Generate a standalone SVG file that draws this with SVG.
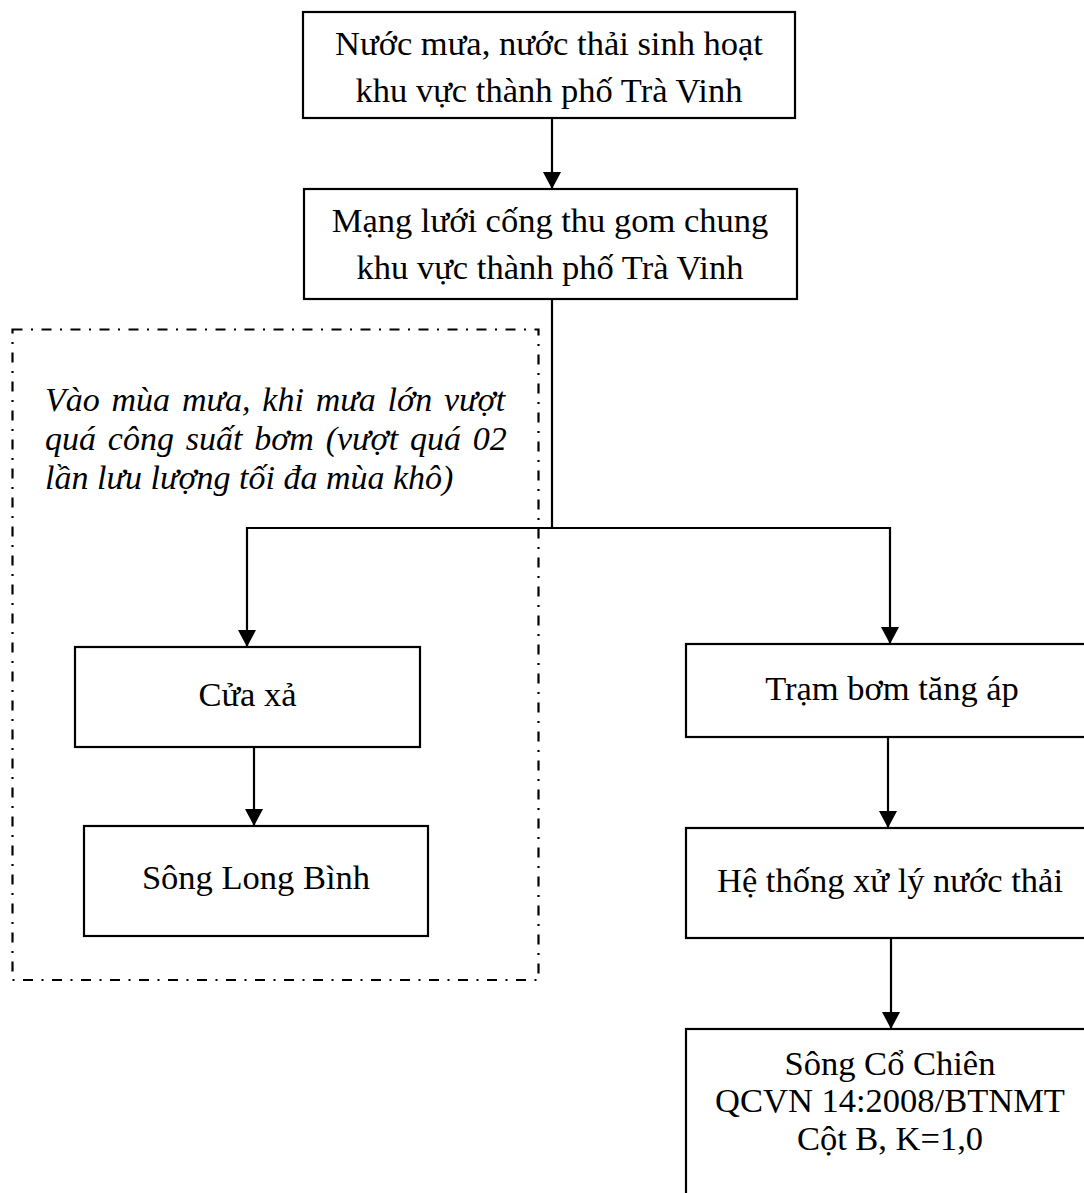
<svg xmlns="http://www.w3.org/2000/svg" width="1084" height="1193" viewBox="0 0 1084 1193">
<defs>
<marker id="arr" markerUnits="userSpaceOnUse" markerWidth="18" markerHeight="18" viewBox="0 0 18 18" refX="17" refY="9" orient="auto">
<path d="M0,0 L17,9 L0,18 Z" fill="#000"/>
</marker>
<style>
.box{fill:#fff;stroke:#000;stroke-width:2.2}
.t{font-family:"Liberation Serif","Times New Roman",serif;font-size:34.5px;fill:#000;text-anchor:middle}
.it{font-family:"Liberation Serif","Times New Roman",serif;font-size:34px;font-style:italic;fill:#000}
.c{fill:none;stroke:#000;stroke-width:2.2}
.ca{fill:none;stroke:#000;stroke-width:2.2;marker-end:url(#arr)}
.dash{fill:none;stroke:#000;stroke-width:2.2;stroke-dasharray:10 8.5 2 8.5}
</style>
</defs>
<rect width="1084" height="1193" fill="#fff"/>
<g id="region-overflow">
<rect class="dash" x="12.5" y="329.5" width="526" height="650.5"/>
<text class="it" x="45" y="411" word-spacing="3.3">Vào mùa mưa, khi mưa lớn vượt</text>
<text class="it" x="45" y="450" word-spacing="3.3">quá công suất bơm (vượt quá 02</text>
<text class="it" x="45" y="489">lần lưu lượng tối đa mùa khô)</text>
</g>
<g id="connectors">
<line class="ca" x1="552" y1="118" x2="552" y2="189"/>
<polyline class="c" points="552,299 552,528"/>
<polyline class="ca" points="552,528 247,528 247,647"/>
<polyline class="ca" points="552,528 890,528 890,644"/>
<line class="ca" x1="254" y1="747" x2="254" y2="826"/>
<line class="ca" x1="888" y1="737" x2="888" y2="828"/>
<line class="ca" x1="891" y1="938" x2="891" y2="1029"/>
</g>
<g id="node-nuoc-mua">
<rect class="box" x="303" y="12" width="492" height="106"/>
<text class="t" x="549" y="55">Nước mưa, nước thải sinh hoạt</text>
<text class="t" x="549" y="102">khu vực thành phố Trà Vinh</text>
</g>
<g id="node-mang-luoi">
<rect class="box" x="304" y="189" width="493" height="110"/>
<text class="t" x="550" y="232">Mạng lưới cống thu gom chung</text>
<text class="t" x="550" y="279">khu vực thành phố Trà Vinh</text>
</g>
<g id="node-cua-xa">
<rect class="box" x="75" y="647" width="345" height="100"/>
<text class="t" x="247.5" y="706">Cửa xả</text>
</g>
<g id="node-song-long-binh">
<rect class="box" x="84" y="826" width="344" height="110"/>
<text class="t" x="256" y="889">Sông Long Bình</text>
</g>
<g id="node-tram-bom">
<rect class="box" x="686" y="644" width="412" height="93"/>
<text class="t" x="892" y="700">Trạm bơm tăng áp</text>
</g>
<g id="node-he-thong">
<rect class="box" x="686" y="828" width="412" height="110"/>
<text class="t" x="890" y="892">Hệ thống xử lý nước thải</text>
</g>
<g id="node-song-co-chien">
<rect class="box" x="686" y="1029" width="412" height="190"/>
<text class="t" x="890" y="1075">Sông Cổ Chiên</text>
<text class="t" x="890" y="1112">QCVN 14:2008/BTNMT</text>
<text class="t" x="890" y="1150">Cột B, K=1,0</text>
</g>
</svg>
